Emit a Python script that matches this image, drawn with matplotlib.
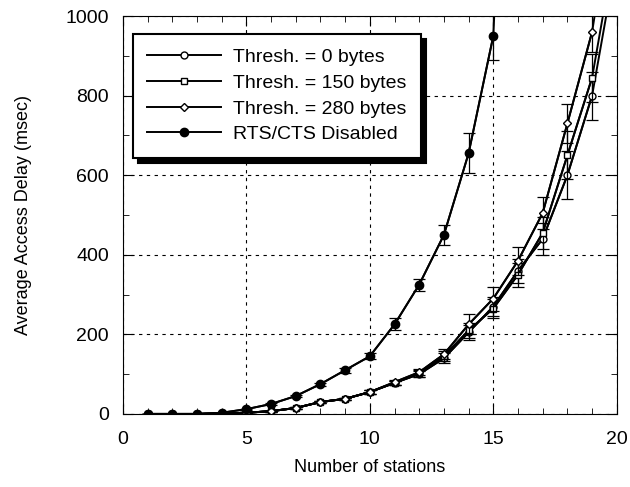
import matplotlib.pyplot as plt
import numpy as np

plt.rcParams['font.family'] = ['Liberation Sans', 'DejaVu Sans']

# stations
x_thr = [1, 2, 3, 4, 5, 6, 7, 8, 9, 10, 11, 12, 13, 14, 15, 16, 17, 18, 19, 20]
x_dis = [1, 2, 3, 4, 5, 6, 7, 8, 9, 10, 11, 12, 13, 14, 15, 16]

# average access delay (msec); last point is off-scale (line runs out the top)
thr0 = [0, 0, 0, 1, 3, 7, 15, 30, 38, 55, 78, 100, 140, 205, 270, 360, 440, 600, 800, 1150]
thr150 = [0, 0, 0, 1, 3, 7, 15, 30, 38, 55, 78, 102, 145, 210, 265, 350, 455, 650, 845, 1200]
thr280 = [0, 0, 0, 1, 3, 7, 15, 30, 38, 55, 80, 105, 150, 225, 290, 385, 505, 730, 960, 1350]
disabled = [0, 0, 0, 3, 12, 25, 45, 75, 110, 145, 225, 325, 450, 655, 950, 2300]

# error bar half-widths
err0 = [0, 0, 0, 0, 1, 1, 2, 3, 3, 4, 6, 8, 12, 18, 25, 30, 40, 60, 60, 0]
err150 = [0, 0, 0, 0, 1, 1, 2, 3, 3, 4, 6, 8, 12, 18, 25, 30, 40, 60, 60, 0]
err280 = [0, 0, 0, 0, 1, 1, 2, 3, 3, 4, 6, 8, 12, 25, 30, 35, 40, 50, 50, 0]
errd = [0, 0, 0, 0, 1, 2, 3, 4, 6, 8, 15, 15, 25, 50, 60, 0]

fig = plt.figure(figsize=(6.3, 4.87), dpi=100)
ax = fig.add_axes([0.195, 0.150, 0.784, 0.817])

series = [
    (x_thr, thr0, err0, 'o', 'white', 'Thresh. = 0 bytes', 5),
    (x_thr, thr150, err150, 's', 'white', 'Thresh. = 150 bytes', 5),
    (x_thr, thr280, err280, 'D', 'white', 'Thresh. = 280 bytes', 4),
    (x_dis, disabled, errd, 'o', 'black', 'RTS/CTS Disabled', 6),
]
for xs, ys, es, m, fc, lab, ms in series:
    ax.errorbar(xs[:-1], ys[:-1], yerr=es[:-1], fmt='none', ecolor='black',
                elinewidth=0.9, capsize=4, capthick=0.9)
    ax.plot(xs, ys, color='black', lw=1.4)
    ax.plot(xs[:-1], ys[:-1], color='black', lw=1.4, marker=m, mfc=fc,
            mec='black', ms=ms, label=lab)

ax.set_xlim(0, 20)
ax.set_ylim(0, 1000)
ax.set_xticks([0, 5, 10, 15, 20])
ax.set_xticks(np.arange(0, 21, 1), minor=True)
ax.set_yticks([0, 200, 400, 600, 800, 1000])
ax.set_yticks(np.arange(0, 1001, 100), minor=True)
ax.tick_params(direction='in', which='both', labelsize=14, top=True, right=True)
ax.tick_params(which='major', length=7)
ax.tick_params(which='minor', length=4)
ax.tick_params(axis='x', pad=12)
ax.tick_params(axis='y', pad=10)
ax.grid(True, which='major', color='black', linestyle=(0, (3, 4)), lw=0.8)
ax.set_xlabel('Number of stations', fontsize=13, labelpad=8)
ax.set_ylabel('Average Access Delay (msec)', fontsize=13, labelpad=24)

leg = ax.legend(loc='upper left', bbox_to_anchor=(0.0, 0.98), fontsize=14,
                fancybox=False, shadow={'color': 'black', 'alpha': 1, 'ox': 4, 'oy': -4},
                edgecolor='black', framealpha=1, handlelength=3.8,
                handletextpad=0.6, borderpad=0.75, labelspacing=0.42)
leg.get_frame().set_linewidth(1.5)

fig.savefig('out.png', dpi=100)
